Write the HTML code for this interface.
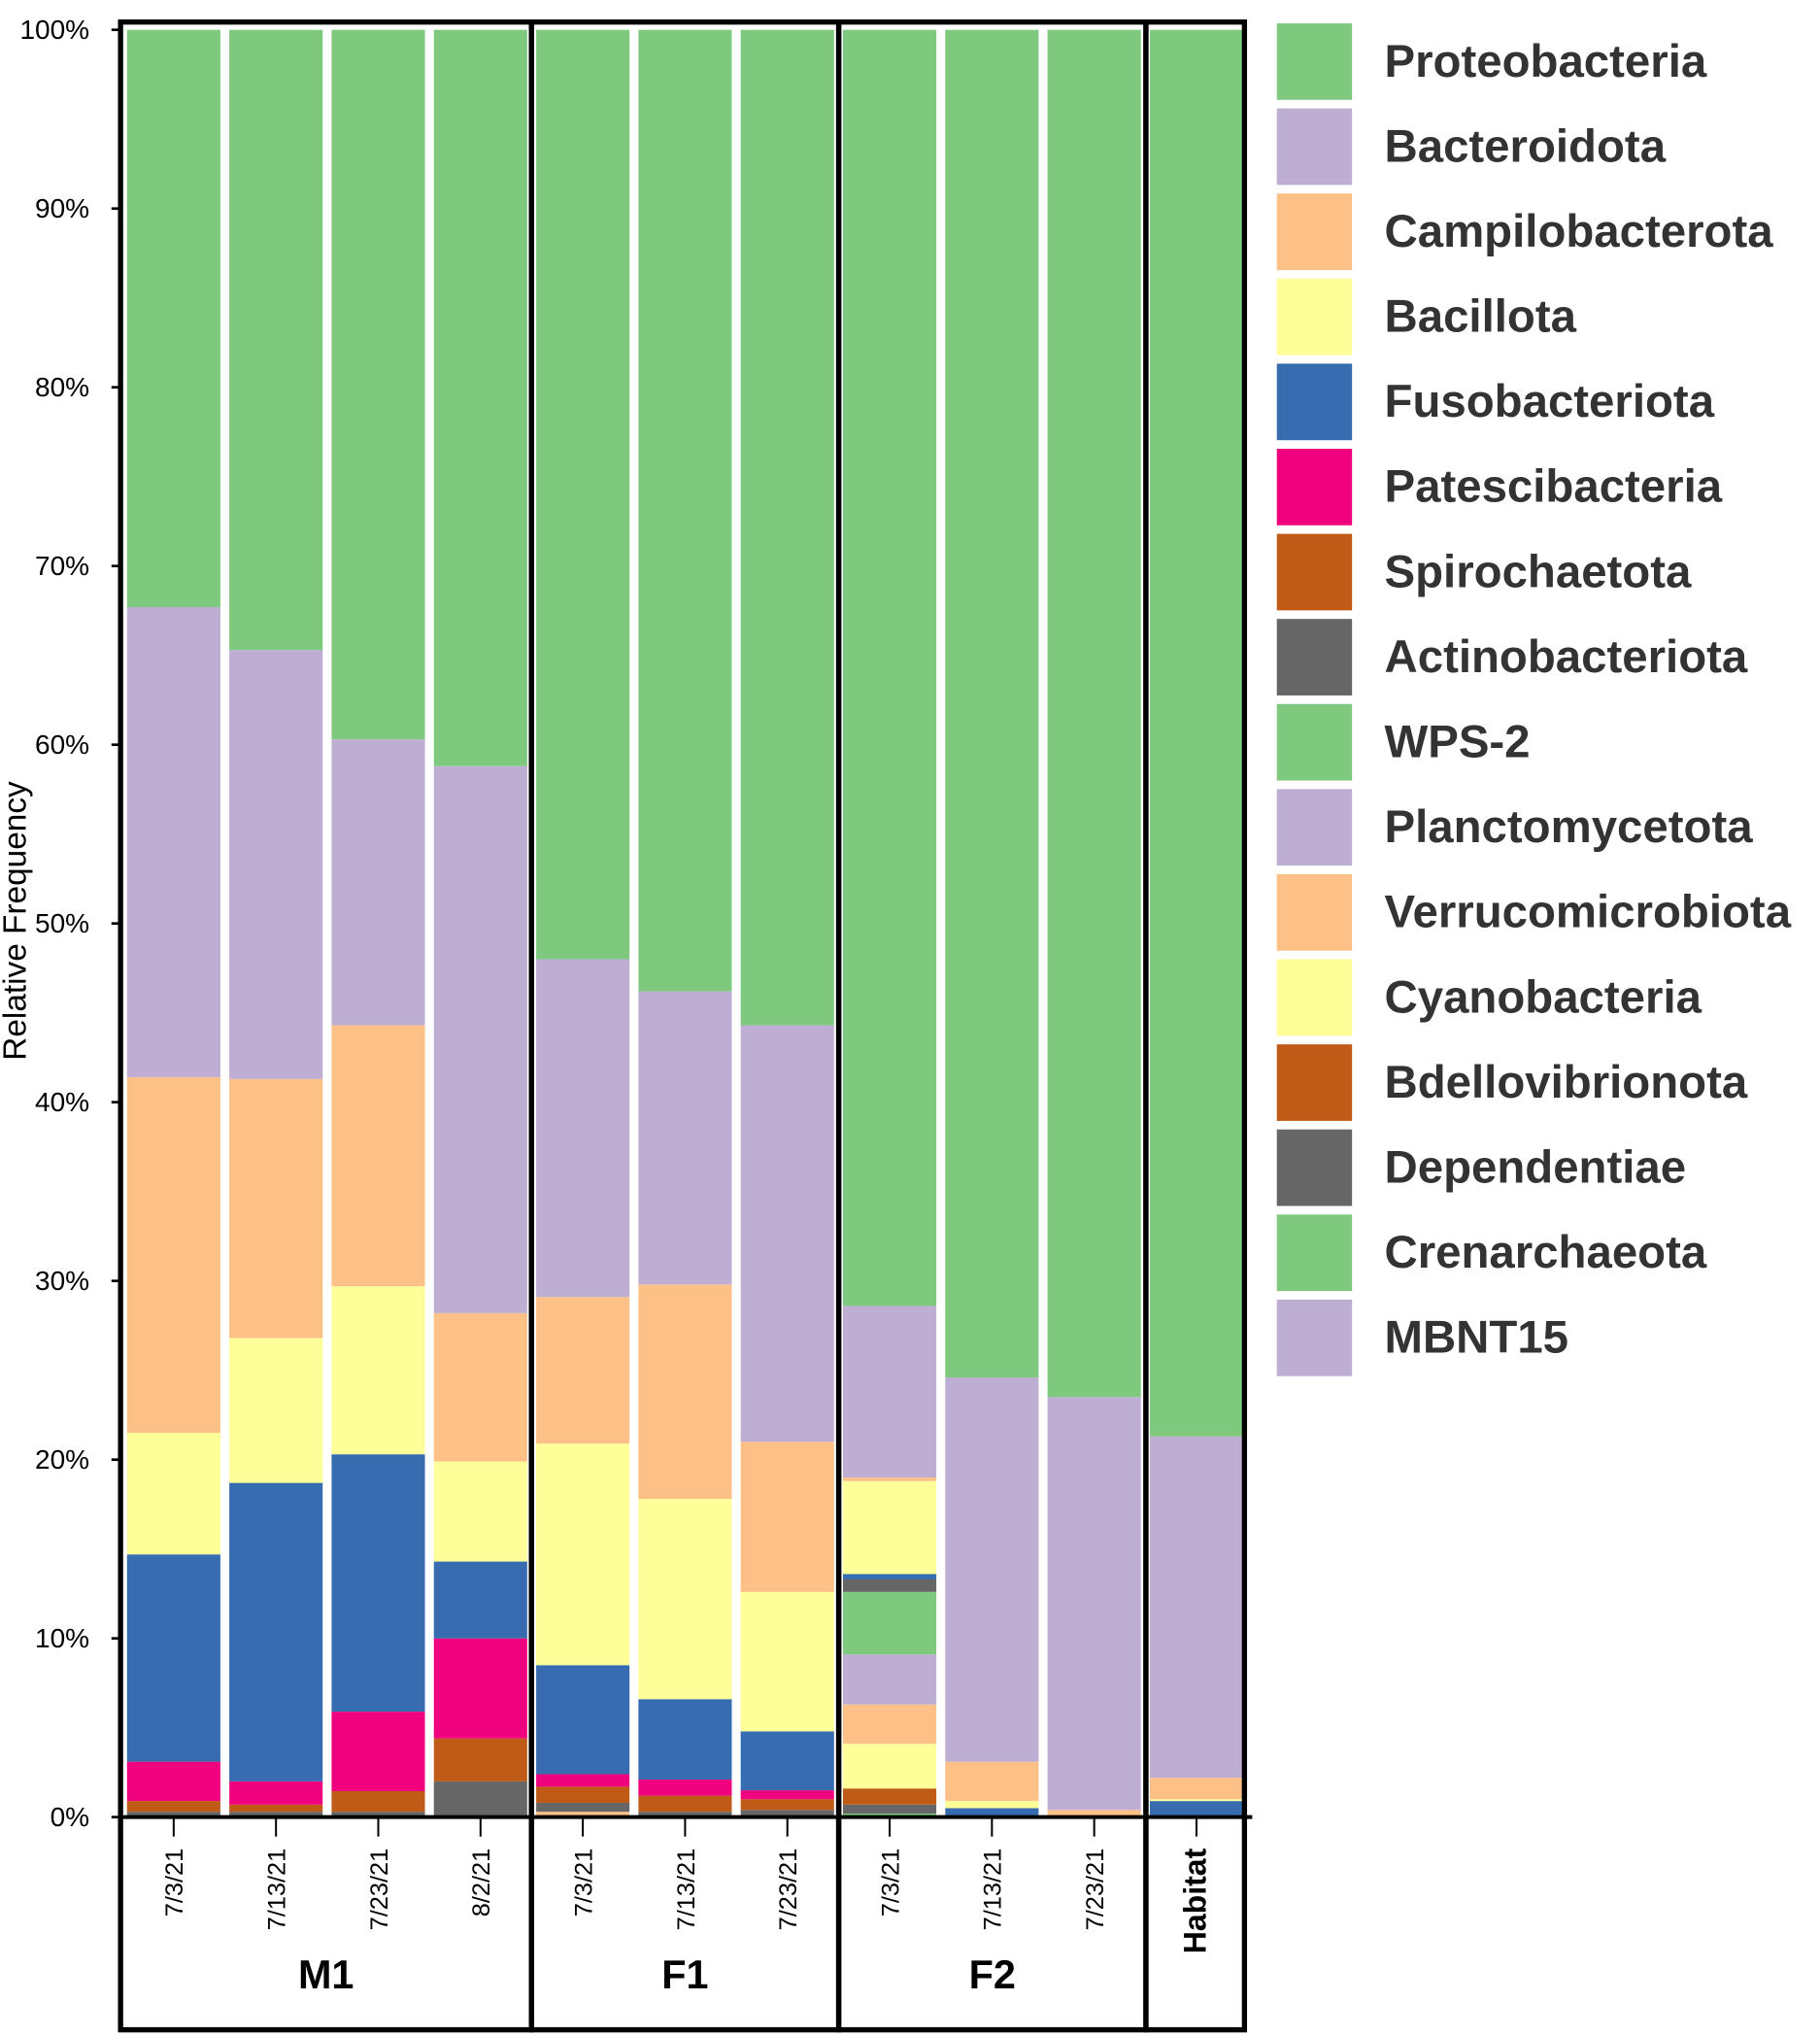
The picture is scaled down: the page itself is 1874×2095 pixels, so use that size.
<!DOCTYPE html>
<html><head><meta charset="utf-8"><style>
html,body{margin:0;padding:0;background:#fff}
svg{display:block;font-family:"Liberation Sans",Arial,sans-serif}
</style></head><body>
<svg id="chart" width="1874" height="2095" viewBox="0 0 1404 1569" preserveAspectRatio="none" xmlns="http://www.w3.org/2000/svg">
<g id="bars"></g>
<g id="axes"></g>
<g id="legend"></g>
</svg>
<script>
const sampleLabels = ["7/3/21","7/13/21","7/23/21","8/2/21","7/3/21","7/13/21","7/23/21","7/3/21","7/13/21","7/23/21","Habitat"];
const groupLabels = ["M1","F1","F2"];
const yTickLabels = ["0%","10%","20%","30%","40%","50%","60%","70%","80%","90%","100%"];
const yTickValues = [0,10,20,30,40,50,60,70,80,90,100];
const legendNames = ["Proteobacteria","Bacteroidota","Campilobacterota","Bacillota","Fusobacteriota","Patescibacteria","Spirochaetota","Actinobacteriota","WPS-2","Planctomycetota","Verrucomicrobiota","Cyanobacteria","Bdellovibrionota","Dependentiae","Crenarchaeota","MBNT15"];
const Proteobacteria   = [32.3,34.7,39.7,41.2,52.0,53.8,55.7,71.4,75.4,76.5,78.7];
const Bacteroidota     = [26.3,24.0,16.0,30.6,18.9,16.4,23.3,9.6,21.5,23.1,19.1];
const Campilobacterota = [19.9,14.5,14.6,8.3,8.2,12.0,8.4,0.2,2.2,0.4,1.2];
const Bacillota        = [6.8,8.1,9.4,5.6,12.4,11.2,7.8,5.2,0.4,0,0.1];
const Fusobacteriota   = [11.6,16.7,14.4,4.3,6.1,4.5,3.3,0.3,0.5,0,0.9];
const Patescibacteria  = [2.2,1.3,4.45,5.6,0.7,0.9,0.5,0,0,0,0];
const Spirochaetota    = [0.6,0.4,1.15,2.4,0.9,0.9,0.6,0,0,0,0];
const Actinobacteriota = [0.3,0.3,0.3,2.0,0.5,0.3,0.4,0.7,0,0,0];
const WPS2             = [0,0,0,0,0,0,0,3.5,0,0,0];
const Planctomycetota  = [0,0,0,0,0,0,0,2.8,0,0,0];
const Verrucomicrobiota= [0,0,0,0,0.3,0,0,2.2,0,0,0];
const Cyanobacteria    = [0,0,0,0,0,0,0,2.5,0,0,0];
const Bdellovibrionota = [0,0,0,0,0,0,0,0.9,0,0,0];
const Dependentiae     = [0,0,0,0,0,0,0,0.5,0,0,0];
const Crenarchaeota    = [0,0,0,0,0,0,0,0.2,0,0,0];
const MBNT15           = [0,0,0,0,0,0,0,0,0,0,0];

const seriesList = [Proteobacteria,Bacteroidota,Campilobacterota,Bacillota,Fusobacteriota,Patescibacteria,Spirochaetota,Actinobacteriota,WPS2,Planctomycetota,Verrucomicrobiota,Cyanobacteria,Bdellovibrionota,Dependentiae,Crenarchaeota,MBNT15];
const G="#7fc97f",P="#beaed4",O="#fdc086",Y="#ffff99",B="#386cb0",K="#f0027f",R="#bf5b17",D="#666666";
const colors = [G,P,O,Y,B,K,R,D,G,P,O,Y,R,D,G,P];
const NS="http://www.w3.org/2000/svg";
function mk(tag,attrs,parent){const e=document.createElementNS(NS,tag);for(const k in attrs)e.setAttribute(k,attrs[k]);parent.appendChild(e);return e;}
const y0=1401,y100=23;
function yScale(v){return y0-(y0-y100)*v/100;}
function xCenter(i){return 134+i*78.9;}
const barW=72;
const gBars=document.getElementById('bars');
for(let i=0;i<sampleLabels.length;i++){
  let cum=0;
  for(let s=seriesList.length-1;s>=0;s--){
    const v=seriesList[s][i]; if(!v) continue;
    const yt=yScale(cum+v), yb=yScale(cum);
    const r=mk('rect',{x:xCenter(i)-barW/2,y:yt,width:barW,height:yb-yt,fill:colors[s]},gBars);
    
    
    cum+=v;
  }
}
const gA=document.getElementById('axes');
yTickValues.forEach((v,k)=>{
  const y=yScale(v);
  const l=mk('line',{x1:86,x2:94,y1:y,y2:y,stroke:'#000','stroke-width':2},gA);
  
  
  const t=mk('text',{x:69,y:y+7,'text-anchor':'end','font-size':21,fill:'#000'},gA);
  t.textContent=yTickLabels[k];
  
  
});
const yt=mk('text',{x:20,y:710,'text-anchor':'middle','font-size':25,fill:'#000',transform:'rotate(-90 20 710)'},gA);
yt.textContent='Relative Frequency';


const xa=mk('line',{x1:93,x2:966,y1:1401,y2:1401,stroke:'#000','stroke-width':3},gA);


sampleLabels.forEach((lab,i)=>{
  const x=xCenter(i);
  const tk=mk('line',{x1:x,x2:x,y1:1401,y2:1416,stroke:'#000','stroke-width':1.5},gA);
  
  
  const hab=lab==='Habitat';
  const t=mk('text',{x:x+7,y:1425,'text-anchor':'end','font-size':hab?24:19,'font-weight':hab?'bold':'normal',fill:'#000',transform:`rotate(-90 ${x+7} 1425)`},gA);
  t.textContent=lab;
  
  
});
const boxes=[[93,410],[410,647],[647,884],[884,960]];
boxes.forEach((b,k)=>{
  const r=mk('rect',{x:b[0],y:17,width:b[1]-b[0],height:1548,fill:'none',stroke:'#000','stroke-width':4},gA);
  
  
  if(k<3){
    const t=mk('text',{x:(b[0]+b[1])/2,y:1533,'text-anchor':'middle','font-size':31,'font-weight':'bold',fill:'#000'},gA);
    t.textContent=groupLabels[k];
    
    
  }
});
const gL=document.getElementById('legend');
legendNames.forEach((n,s)=>{
  const y=18+s*65.6;
  const r=mk('rect',{x:985,y:y,width:58,height:59,fill:colors[s]},gL);
  
  
  const t=mk('text',{x:1068,y:y+41,'font-size':35.5,'font-weight':'bold',fill:'#333'},gL);
  t.textContent=n;
  
  
});
</script>
</body></html>
